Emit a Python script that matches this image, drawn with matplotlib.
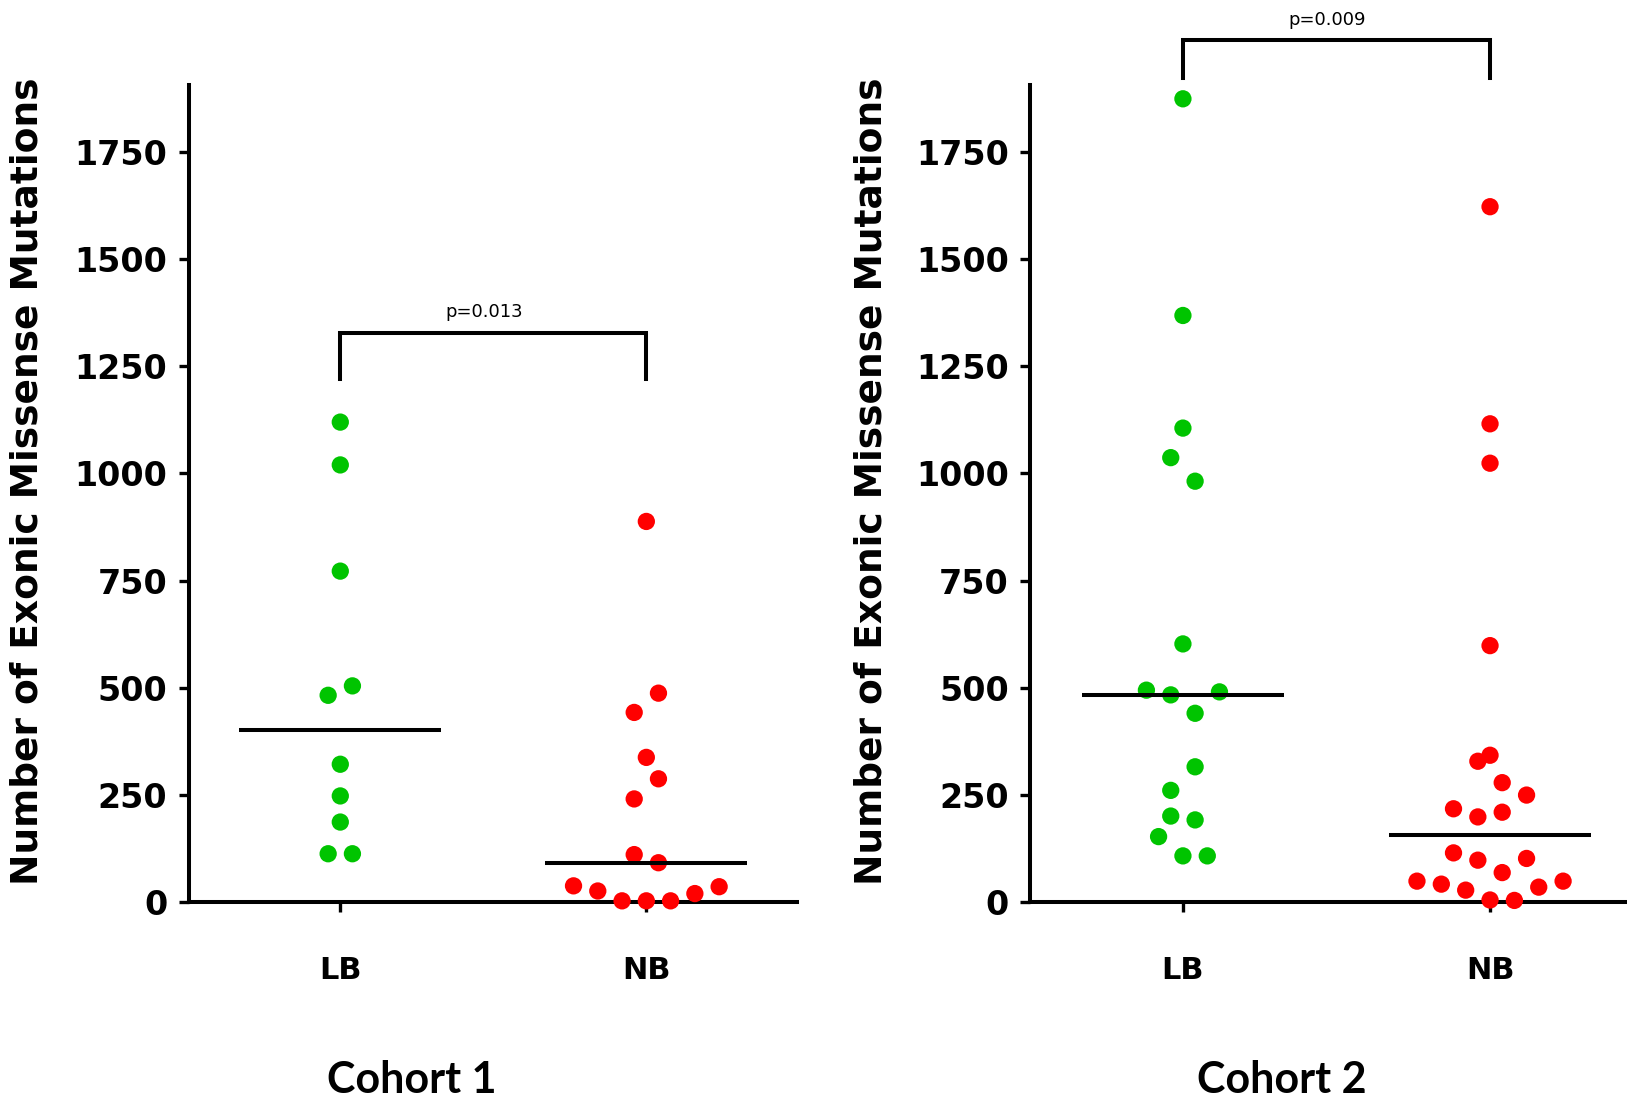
import numpy as np
import matplotlib
matplotlib.use("Agg")
import matplotlib.pyplot as plt

# valores (orden = izquierda a derecha dentro de cada fila)
groups = ["LB", "NB"]
c1_lb = [1120, 1020, 772, 482, 504, 321, 247, 186, 112, 112]
c1_nb = [888, 442, 487, 337, 240, 287, 110, 91, 37, 25, 2, 2, 2, 19, 35]
c2_lb = [1875, 1369, 1106, 1037, 982, 602, 494, 483, 440, 490, 260, 315,
         200, 191, 152, 107, 107]
c2_nb = [1623, 1116, 1024, 598, 342, 328, 278, 217, 198, 209, 249, 114, 97,
         68, 101, 48, 41, 27, 4, 3, 34, 48]
p_vals = ["p=0.013", "p=0.009"]
titles = ["Cohort 1", "Cohort 2"]
yticks = [0, 250, 500, 750, 1000, 1250, 1500, 1750]
ylab = "Number of Exonic Missense Mutations"

GREEN = "#00c400"
RED = "#ff0000"
LW = 2.9


def swarm(vals, thresh=58, step=0.0793):
    # agrupa valores cercanos en filas y los reparte centrados
    vals = np.asarray(vals, dtype=float)
    order = np.argsort(vals, kind="stable")
    rows = []
    for i in order:
        if rows and vals[i] - vals[rows[-1][0]] < thresh:
            rows[-1].append(i)
        else:
            rows.append([i])
    off = np.zeros(len(vals))
    for r in rows:
        r = sorted(r)
        n = len(r)
        for k, i in enumerate(r):
            off[i] = (k - (n - 1) / 2) * step
    return off


fig = plt.figure(figsize=(16.27, 10.98), dpi=100)
W, H = 1627, 1098
y0, ytop = 901.7, 85.1
ax1 = fig.add_axes([188.8 / W, (H - y0) / H, (796.9 - 188.8) / W, (y0 - ytop) / H])
ax2 = fig.add_axes([1030.3 / W, (H - y0) / H, (1627 - 1030.3) / W, (y0 - ytop) / H])

panels = [
    (ax1, c1_lb, c1_nb, (-0.495, 1.492), 1329, 1221, 1378, 28, 412),
    (ax2, c2_lb, c2_nb, (-0.497, 1.446), 2013, 1924, 2059, 872, 1282),
]

for n, (ax, lb, nb, xl, yb, yleg, yt, xlab, xtit) in enumerate(panels):
    for pos, vals, col in [(0, lb, GREEN), (1, nb, RED)]:
        x = pos + swarm(vals)
        ax.scatter(x, vals, s=155, color=col, edgecolors="none", zorder=3, clip_on=False)
        med = np.median(vals)
        ax.plot([pos - 0.33, pos + 0.33], [med, med], color="black", lw=LW, zorder=4,
                solid_capstyle="butt")
    ax.set_xlim(*xl)
    ax.set_ylim(0, 1907)
    ax.set_xticks([0, 1])
    ax.set_xticklabels(groups)
    ax.set_yticks(yticks)
    ax.spines["top"].set_visible(False)
    ax.spines["right"].set_visible(False)
    ax.spines["left"].set_linewidth(LW)
    ax.spines["bottom"].set_linewidth(LW)
    ax.tick_params(axis="y", length=7.5, width=2.4, pad=8, labelsize=24)
    ax.tick_params(axis="x", length=7, width=2.4, pad=32, labelsize=22)
    for lab in ax.get_xticklabels() + ax.get_yticklabels():
        lab.set_fontweight("bold")
        lab.set_family("DejaVu Sans")

    # corchete de significancia
    ax.plot([0, 0, 1, 1], [yleg, yb, yb, yleg], color="black", lw=LW,
            clip_on=False, solid_joinstyle="miter")
    ax.text(0.47, yt, p_vals[n], ha="center", va="center", fontsize=13,
            family="DejaVu Sans", clip_on=False)

    fig.text(xlab / W, (H - 481.5) / H, ylab, rotation=90, ha="center",
             va="center", fontsize=27, fontweight="bold", family="DejaVu Sans")
    fig.text(xtit / W, (H - 1093) / H, titles[n], ha="center", va="baseline",
             fontsize=31, fontweight="bold", family="Lato")

fig.savefig("out.png", dpi=100)
